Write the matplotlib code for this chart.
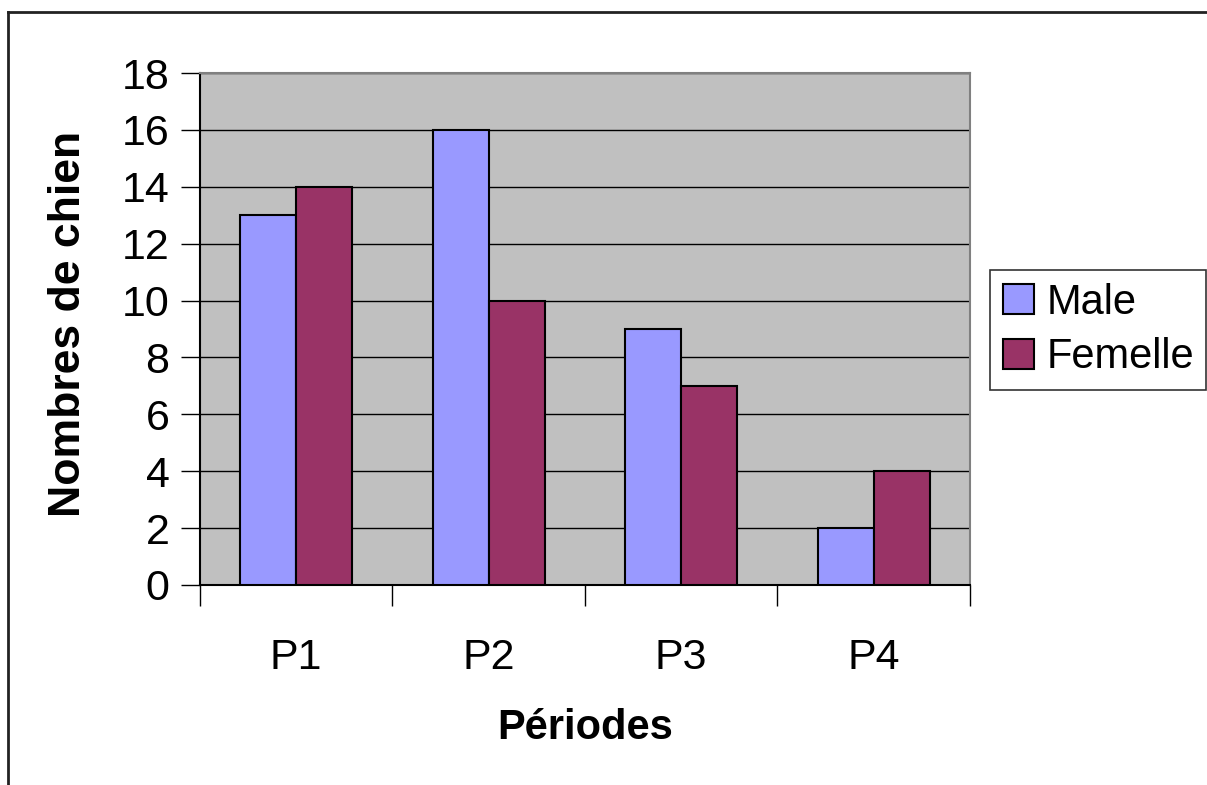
import matplotlib
matplotlib.use("Agg")
import matplotlib.pyplot as plt
import numpy as np
from matplotlib.lines import Line2D

plt.rcParams["font.family"] = ["Liberation Sans", "DejaVu Sans"]

periodes = ["P1", "P2", "P3", "P4"]
male = [13, 16, 9, 2]
femelle = [14, 10, 7, 4]

fig = plt.figure(figsize=(12.07, 7.85), dpi=100)
ax = fig.add_axes([0.1657, 0.2548, 0.8036 - 0.1657, 0.907 - 0.2548])
ax.set_facecolor("#C0C0C0")

x = np.arange(len(periodes))
w = 0.29
ax.bar(x - w / 2, male, w, color="#9999FF", edgecolor="black", linewidth=1.5, label="Male", zorder=3)
ax.bar(x + w / 2, femelle, w, color="#993366", edgecolor="black", linewidth=1.5, label="Femelle", zorder=3)

ax.set_xlim(-0.5, len(periodes) - 0.5)
ax.set_ylim(0, 18)
ax.set_yticks(range(0, 19, 2))
ax.yaxis.grid(True, color="black", linewidth=1, zorder=1)
ax.set_axisbelow(True)

# category ticks sit between the groups, labels under each group
ax.set_xticks(np.arange(-0.5, len(periodes), 1))
ax.set_xticklabels([])
ax.set_xticks(x, minor=True)
ax.set_xticklabels(periodes, minor=True)
ax.tick_params(axis="x", which="minor", length=0, pad=38, labelsize=31)
ax.tick_params(axis="x", which="major", length=15, width=1, direction="out")
ax.tick_params(axis="y", length=14, width=1, direction="out", labelsize=31, pad=8)

for side in ["top", "right"]:
    ax.spines[side].set_color("#808080")
    ax.spines[side].set_linewidth(1.5)
ax.spines["left"].set_color("black")
ax.spines["left"].set_linewidth(1.5)
ax.spines["bottom"].set_color("black")
ax.spines["bottom"].set_linewidth(1.5)

ax.set_xlabel("Périodes", fontsize=30, fontweight="bold", labelpad=22)
ax.set_ylabel("Nombres de chien", fontsize=32, fontweight="bold")
ax.yaxis.set_label_coords(-0.171, 0.51)
ax.yaxis.label.set_verticalalignment("center")

leg = ax.legend(loc="center left", bbox_to_anchor=(990 / 1207, 1 - 330 / 785),
                bbox_transform=fig.transFigure, fontsize=30, frameon=True,
                fancybox=False, edgecolor="black", handlelength=0.75,
                handleheight=0.75, handletextpad=0.3, borderpad=0.3,
                labelspacing=0.35, borderaxespad=0)
leg.get_frame().set_linewidth(1.2)

# outer chart frame (only top and left edges fall inside the image)
fig.add_artist(Line2D([8 / 1207, 1.0], [1 - 12 / 785, 1 - 12 / 785], color="#222222", linewidth=2, transform=fig.transFigure))
fig.add_artist(Line2D([8 / 1207, 8 / 1207], [1 - 12 / 785, 0.0], color="#222222", linewidth=2, transform=fig.transFigure))

plt.savefig("out.png", dpi=100)
